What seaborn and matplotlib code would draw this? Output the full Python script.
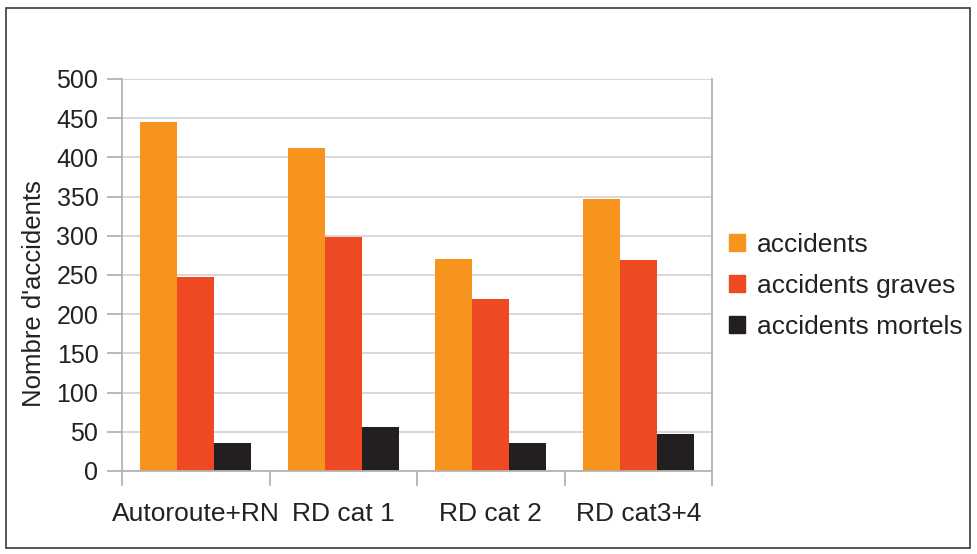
import numpy as np
import pandas as pd
import matplotlib.pyplot as plt
import matplotlib.patches as mpatches
import seaborn as sns

# Data
categories = ['Autoroute+RN', 'RD cat 1', 'RD cat 2', 'RD cat3+4']
series = ['accidents', 'accidents graves', 'accidents mortels']
accidents = [445, 412, 270, 347]
accidents_graves = [248, 298, 219, 269]
accidents_mortels = [36, 56, 36, 47]
colors = ['#F7941D', '#EF4923', '#231F20']

df = pd.DataFrame({
    'categorie': categories * 3,
    'serie': [series[0]] * 4 + [series[1]] * 4 + [series[2]] * 4,
    'valeur': accidents + accidents_graves + accidents_mortels,
})

sns.set_theme(style='white')
plt.rcParams['font.family'] = ['Liberation Sans', 'DejaVu Sans']

fig = plt.figure(figsize=(9.77, 5.54), dpi=100)
ax = fig.add_axes([122 / 977, 83 / 554, 590 / 977, 392 / 554])

sns.barplot(data=df, x='categorie', y='valeur', hue='serie',
            palette=colors, width=0.75, gap=0, saturation=1,
            linewidth=0, ax=ax)

ax.set_ylim(0, 500)
ax.set_xlim(-0.5, 3.5)
ax.set_yticks(range(0, 501, 50))
ax.yaxis.grid(True, color='#d4d4d4', linewidth=1.3)
ax.set_axisbelow(True)

# category separators as minor ticks on the x axis
ax.set_xticks([-0.5, 0.5, 1.5, 2.5, 3.5], minor=True)
ax.tick_params(axis='x', which='major', length=0, labelsize=19, pad=22,
               colors='#222222')
ax.tick_params(axis='x', which='minor', length=11, width=1.3,
               color='#b3b3b3', direction='out')
ax.tick_params(axis='y', length=11, width=1.3, color='#b3b3b3',
               direction='out', labelsize=18, pad=6, labelcolor='#222222')
ax.tick_params(bottom=True, left=True, which='both')

for side in ['left', 'right', 'bottom', 'top']:
    ax.spines[side].set_color('#b3b3b3')
    ax.spines[side].set_linewidth(1.3)
ax.spines['top'].set_visible(False)

ax.set_xlabel('')
ax.set_ylabel("Nombre d'accidents", fontsize=18.5, color='#222222')
ax.yaxis.set_label_coords(-0.128, 0.452)

handles = [mpatches.Patch(color=c, label=s) for c, s in zip(colors, series)]
ax.legend(handles=handles, loc='center left', bbox_to_anchor=(729 / 977, 268 / 554),
          bbox_transform=fig.transFigure, frameon=False, fontsize=19,
          handlelength=0.62, handleheight=0.62, handletextpad=0.45,
          labelspacing=0.65, borderaxespad=0, borderpad=0, labelcolor='#222222')

# outer frame around the whole chart
fig.patches.append(mpatches.Rectangle((6 / 977, 6 / 554), 964 / 977, 540 / 554,
                                      transform=fig.transFigure, fill=False,
                                      edgecolor='#3a3a3a', linewidth=1.2))

fig.savefig('out.png', dpi=100)
